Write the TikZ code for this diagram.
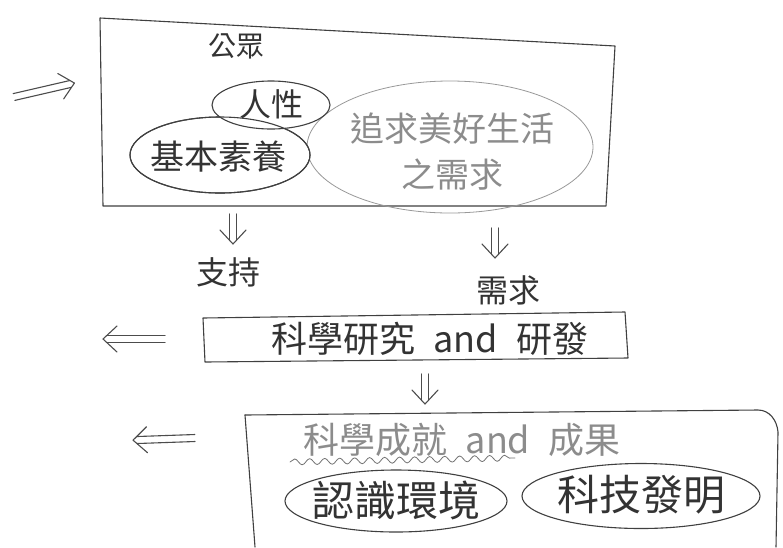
\documentclass[tikz,border=0pt]{standalone}
\usepackage{fontspec}
\newfontfamily\cjk{Noto Sans CJK TC}
\usetikzlibrary{shapes.geometric,decorations.pathmorphing}
\begin{document}
\begin{tikzpicture}[x=1pt,y=-1pt, line cap=round, line join=round,
  ink/.style={draw=black!75, line width=1.1pt},
  lbl/.style={font=\cjk\fontsize{#1}{#1}\selectfont, text=black!80, inner sep=0pt},
  pale/.style={text=black!45},
  oval/.style={ellipse, draw=black!75, line width=1.1pt, inner sep=0pt},
  arrink/.style={draw=black!70, line width=1.1pt},
  longarr/.pic={
    \draw[arrink] (0,-3.5) -- (58,-3.5);
    \draw[arrink] (0,3.5) -- (58,3.5);
    \draw[arrink] (48,-13) -- (62,0) -- (48,13);
  },
  shortarr/.pic={
    \draw[arrink] (0,-3.5) -- (26,-3.5);
    \draw[arrink] (0,3.5) -- (26,3.5);
    \draw[arrink] (16,-13) -- (30,0) -- (16,13);
  }
]
\useasboundingbox (0,0) rectangle (783,547);
\fill[white] (0,0) rectangle (783,547);

% top box
\draw[ink] (100,18) -- (615,46) -- (606,206) -- (103,206) -- cycle;
\node[lbl=28] (gz) at (236,46) {公眾};
\node[oval, draw=black!40, line width=0.8pt, minimum width=286pt, minimum height=132pt] (need) at (450,147) {};
\node[lbl=34, pale, align=center, font=\cjk\fontsize{34}{46}\selectfont] (needt) at (452,152) {追求美好生活\\之需求};
\node[oval, minimum width=180pt, minimum height=76pt, fill=white] (jb) at (220,155) {};
\node[lbl=34] (jbt) at (218,157) {基本素養};
\node[oval, minimum width=118pt, minimum height=48pt, fill=white] (rx) at (271,105) {};
\node[lbl=32] (rxt) at (271,104) {人性};
\draw[ink] (jb.center) ellipse [x radius=90pt, y radius=38pt];

% labels between boxes
\node[lbl=32] (zc) at (228,272) {支持};
\node[lbl=32] (xq) at (508,290) {需求};

% middle box
\draw[ink] (203,318) -- (625,312) -- (628,358) -- (205,362) -- cycle;
\node[lbl=36] (yj) at (430,339) {科學研究\,\,\,and\,\,\,研發};

% bottom box
\draw[ink] (245,415) -- (758,410) to[out=0,in=95] (778,432) -- (776,547);
\draw[ink] (245,415) -- (255,547);
\node[lbl=36, pale] (cj) at (462,440) {科學成就\,\,\,and\,\,\,成果};
\draw[draw=black!55, line width=0.8pt, decorate, decoration={snake, amplitude=3pt, segment length=15pt}]
  (290,462) -- (515,458);
\node[oval, minimum width=222pt, minimum height=62pt] (rs) at (396,501) {};
\node[lbl=42] (rst) at (396,500) {認識環境};
\node[oval, minimum width=238pt, minimum height=65pt] (kj) at (641,496) {};
\node[lbl=42] (kjt) at (641,495) {科技發明};

% double arrows
\pic[rotate=13] (p1) at (14,97) {longarr};
\pic[rotate=-90] (p2) at (233,214) {shortarr};
\pic[rotate=-90] (p3) at (495,228) {shortarr};
\pic[rotate=180] (p4) at (165,339) {longarr};
\pic[rotate=-90] (p5) at (425,374) {shortarr};
\pic[rotate=182] (p6) at (195,438) {longarr};
\end{tikzpicture}
\end{document}
